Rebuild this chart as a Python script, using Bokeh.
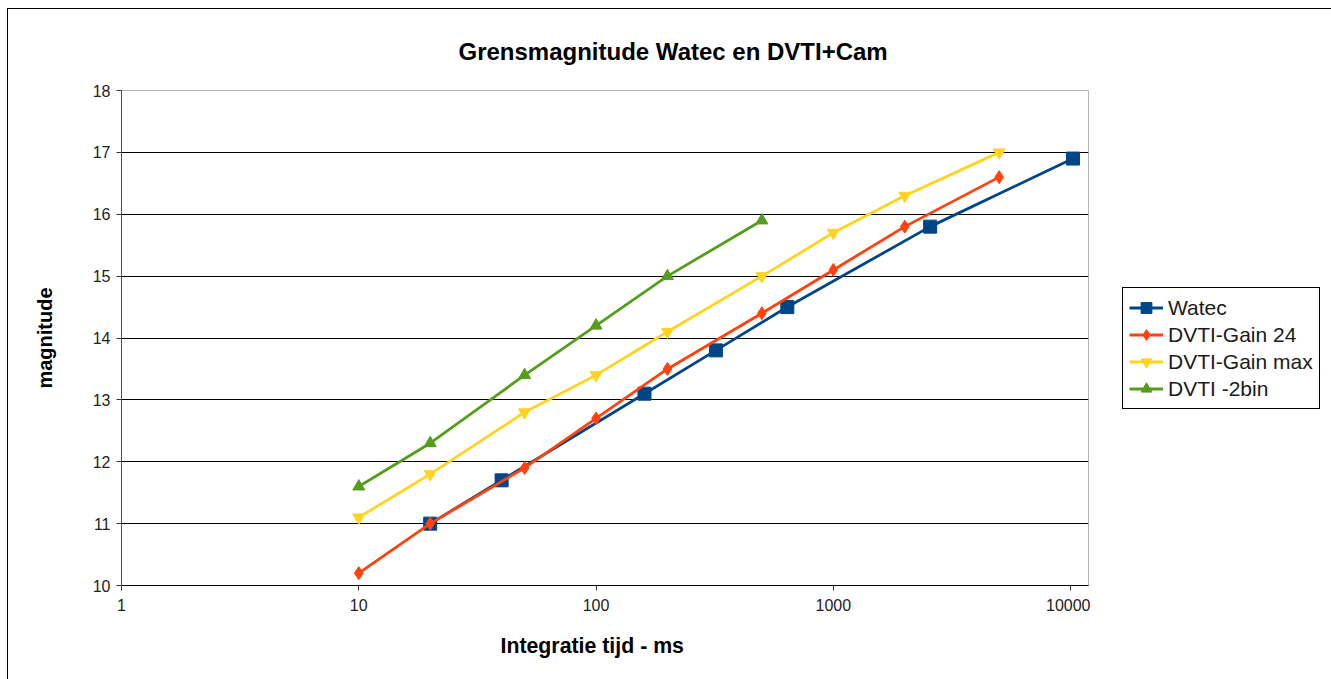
from bokeh.plotting import figure
from bokeh.layouts import row
from bokeh.models import Range1d, FixedTicker, PrintfTickFormatter, Legend, LegendItem, Title
from bokeh.embed import file_html
from bokeh.resources import INLINE

# ---- data ----
exposure_watec = [20, 40, 160, 320, 640, 2560, 10240]
mag_watec = [11.0, 11.7, 13.1, 13.8, 14.5, 15.8, 16.9]

exposure_dvti = [10, 20, 50, 100, 200, 500, 1000, 2000, 5000]
mag_gain24 = [10.2, 11.0, 11.9, 12.7, 13.5, 14.4, 15.1, 15.8, 16.6]
mag_gainmax = [11.1, 11.8, 12.8, 13.4, 14.1, 15.0, 15.7, 16.3, 17.0]

exposure_2bin = [10, 20, 50, 100, 200, 500]
mag_2bin = [11.6, 12.3, 13.4, 14.2, 15.0, 15.9]

series_names = ["Watec", "DVTI-Gain 24", "DVTI-Gain max", "DVTI -2bin"]
x_ticks = [1, 10, 100, 1000, 10000]
y_ticks = [10, 11, 12, 13, 14, 15, 16, 17, 18]

FONT = "Liberation Sans"

p = figure(width=1082, height=670, x_axis_type="log",
           x_range=Range1d(1, 11900), y_range=Range1d(10, 18),
           output_backend="svg", toolbar_location=None,
           min_border_left=113, min_border_top=81,
           min_border_right=2, min_border_bottom=94,
           background_fill_color="white", border_fill_color="white")

p.add_layout(Title(text="Grensmagnitude Watec en DVTI+Cam", align="left", offset=337,
                   text_font=FONT, text_font_size="24px", text_font_style="bold",
                   text_color="#000000", standoff=51), "above")

p.outline_line_color = "#b3b3b3"
p.xgrid.grid_line_color = None
p.ygrid.grid_line_color = "#000000"
p.ygrid.grid_line_width = 1
p.ygrid.ticker = FixedTicker(ticks=y_ticks)

p.xaxis.ticker = FixedTicker(ticks=x_ticks)
p.xaxis.formatter = PrintfTickFormatter(format="%d")
p.yaxis.ticker = FixedTicker(ticks=y_ticks)
for ax in (p.xaxis, p.yaxis):
    ax.minor_tick_line_color = None
    ax.major_tick_in = 0
    ax.major_tick_out = 5
    ax.major_label_text_font = FONT
    ax.major_label_text_font_size = "16px"
    ax.major_label_text_color = "#222222"
    ax.major_tick_line_color = "#333333"
p.xaxis.axis_line_color = "#000000"
p.yaxis.axis_line_color = "#555555"
p.xaxis.major_label_standoff = 8
p.yaxis.major_label_standoff = 6

p.yaxis.axis_label = "magnitude"
p.yaxis.axis_label_text_font = FONT
p.yaxis.axis_label_text_font_size = "20px"
p.yaxis.axis_label_text_font_style = "bold"
p.yaxis.axis_label_text_color = "#000000"
p.yaxis.axis_label_standoff = 34

p.add_layout(Title(text="Integratie tijd - ms", align="left", offset=379,
                   text_font=FONT, text_font_size="21.3px", text_font_style="bold",
                   text_color="#000000", standoff=37), "below")

colors = ["#004586", "#ff420e", "#ffd320", "#579d1c"]
xs = [exposure_watec, exposure_dvti, exposure_dvti, exposure_2bin]
ys = [mag_watec, mag_gain24, mag_gainmax, mag_2bin]
markers = ["square", "diamond", "inverted_triangle", "triangle"]
sizes = [13, 13, 12, 12]

# legend lives in a narrow side figure to the right of the plot area;
# its proxy renderers hold the same series but fall outside that figure's view
pl = figure(width=241, height=670, x_range=Range1d(0, 1), y_range=Range1d(0, 1),
            output_backend="svg", toolbar_location=None,
            x_axis_location=None, y_axis_location=None, min_border=0,
            background_fill_color="white", border_fill_color="white")
pl.outline_line_color = None
pl.grid.visible = False

items = []
for name, x, y, c, m, s in zip(series_names, xs, ys, colors, markers, sizes):
    p.line(x, y, line_color=c, line_width=2.8)
    p.scatter(x, y, marker=m, size=s, fill_color=c, line_color=c)
    ln = pl.line(x, y, line_color=c, line_width=2.8)
    sc = pl.scatter(x, y, marker=m, size=s, fill_color=c, line_color=c)
    items.append(LegendItem(label=name, renderers=[ln, sc]))

legend = Legend(items=items, location=(32, 176), margin=0, padding=6, spacing=0,
                glyph_width=34, glyph_height=27, label_height=27, label_standoff=5,
                label_text_font=FONT, label_text_font_size="21px", label_text_color="#1a1a1a",
                border_line_color="#000000", border_line_width=1, border_line_alpha=1,
                background_fill_color="white", background_fill_alpha=1)
pl.add_layout(legend, "center")

layout = row(p, pl, spacing=0)
layout.styles = {"margin-left": "7px", "margin-top": "8px",
                 "border-left": "1px solid #000000", "border-top": "1px solid #000000"}

open("out.html", "w").write(file_html(layout, INLINE))
